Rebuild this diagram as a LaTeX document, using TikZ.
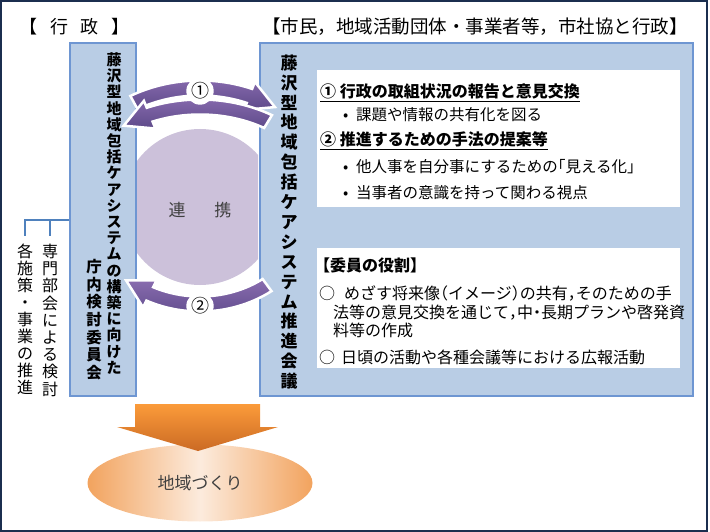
\documentclass[tikz,border=0pt]{standalone}
\usepackage{fontspec}
\setmainfont{Noto Sans CJK JP}
\usetikzlibrary{shapes.geometric}
\definecolor{boxfill}{HTML}{B9CDE5}
\definecolor{boxline}{HTML}{6E96D2}
\definecolor{bracketc}{HTML}{4F81BD}
\definecolor{lav}{HTML}{CCC1DA}
\definecolor{purpA}{HTML}{8A6DB0}
\definecolor{purpB}{HTML}{5E4A8A}
\definecolor{orgA}{HTML}{FB9B3A}
\definecolor{orgB}{HTML}{CB6A24}
\definecolor{ellA}{HTML}{F2A35E}
\definecolor{ellB}{HTML}{FCEBDD}
\definecolor{navy}{HTML}{1B2E4F}
\definecolor{txtgray}{HTML}{404040}
\tikzstyle{bluebox}=[rectangle,draw=boxline,line width=2pt,fill=boxfill,inner sep=0pt]
\tikzstyle{notebox}=[rectangle,fill=white,inner sep=0pt]
\tikzstyle{vcol}=[align=center,inner sep=0pt,anchor=north]
\tikzstyle{txt}=[anchor=base west,inner sep=0pt,font=\fontsize{16}{16}\selectfont]
\tikzstyle{bul}=[anchor=base west,inner sep=0pt,font=\fontsize{15.5}{15.5}\selectfont]
\tikzstyle{head}=[anchor=base west,inner sep=0pt,font=\fontsize{16}{16}\selectfont\bfseries]
\tikzstyle{cyclearrow}=[draw=white,line width=2.5pt,top color=purpA,bottom color=purpB]
\tikzstyle{numlabel}=[circle,fill=white,inner sep=1pt,font=\fontsize{18}{18}\selectfont]
\tikzstyle{bracket}=[draw=bracketc,line width=1.2pt]
% half width punctuation
\newcommand{\jlp}{\makebox[0.5em][r]{（}}
\newcommand{\jrp}{\makebox[0.5em][l]{）}}
\newcommand{\jcm}{\makebox[0.5em][l]{，}}
\newcommand{\jdt}{\makebox[0.5em][c]{・}}
\newcommand{\jlk}{\makebox[0.5em][r]{「}}
\newcommand{\jrk}{\makebox[0.5em][l]{」}}
% #1 tail angle, #2 head angle, #3 tip angle, #4/#5 radii of the middle line
\newcommand{\bendarrow}[5]{%
  \pgfmathsetmacro\ao{#4+7.5}\pgfmathsetmacro\bo{#5+7.5}%
  \pgfmathsetmacro\ai{#4-7.5}\pgfmathsetmacro\bi{#5-7.5}%
  \pgfmathsetmacro\aH{#4+15}\pgfmathsetmacro\bH{#5+15}%
  \pgfmathsetmacro\ah{#4-15}\pgfmathsetmacro\bh{#5-15}%
  \draw[cyclearrow] (xyz polar cs:angle=#1,x radius=\ao,y radius=\bo)
    arc[start angle=#1,end angle=#2,x radius=\ao,y radius=\bo]
    -- (xyz polar cs:angle=#2,x radius=\aH,y radius=\bH)
    -- (xyz polar cs:angle=#3,x radius=#4,y radius=#5)
    -- (xyz polar cs:angle=#2,x radius=\ah,y radius=\bh)
    -- (xyz polar cs:angle=#2,x radius=\ai,y radius=\bi)
    arc[start angle=#2,end angle=#1,x radius=\ai,y radius=\bi]
    -- cycle;}

\begin{document}
\begin{tikzpicture}[x=1pt,y=-1pt]
\useasboundingbox (0,0) rectangle (710,532);
\draw[navy,line width=2pt] (1,1) rectangle (707,531);

% headings
\node[anchor=base west,inner sep=0pt,font=\fontsize{18}{18}\selectfont] (gov) at (19,34) {【\hspace{13pt}行\hspace{12pt}政\hspace{13pt}】};
\node[inner sep=0pt,font=\fontsize{18.5}{18.5}\selectfont] (partners) at (475,27) {【市民，地域活動団体・事業者等，市社協と行政】};

% the two committees
\node[bluebox,minimum width=66pt,minimum height=353pt] (cmte) at (103,219.5) {};
\node[bluebox,minimum width=433pt,minimum height=353pt] (council) at (476.5,219.5) {};
\node[vcol,font=\fontsize{15}{16.2}\selectfont\bfseries] (cmtea) at (114,52.5) {藤\\沢\\型\\地\\域\\包\\括\\ケ\\ア\\シ\\ス\\テ\\ム\\の\\構\\築\\に\\向\\け\\た};
\node[vcol,font=\fontsize{15.5}{17.7}\selectfont\bfseries] (cmteb) at (94,259) {庁\\内\\検\\討\\委\\員\\会};
\node[vcol,font=\fontsize{17}{19.9}\selectfont\bfseries] (counciltxt) at (289,54.5) {藤\\沢\\型\\地\\域\\包\\括\\ケ\\ア\\シ\\ス\\テ\\ム\\推\\進\\会\\議};

% side notes
\node[vcol,font=\fontsize{16}{17.2}\selectfont,outer sep=8pt] (study) at (50,236) {専\\門\\部\\会\\に\\よ\\る\\検\\討};
\node[vcol,font=\fontsize{16}{17}\selectfont,outer sep=8pt] (policy) at (25,236) {各\\施\\策\\・\\事\\業\\の\\推\\進};
\coordinate (br) at (cmte.west |- 0,220);
\draw[bracket] (br) -| (study.north);
\draw[bracket] (br) -| (policy.north);

% council topics
\node[notebox,minimum width=363pt,minimum height=137pt] (topics) at (498.5,138.5) {};
\node[head] (h1) at (320,98) {\underline{① 行政の取組状況の報告と意見交換}};
\node[bul] (b1) at (335,121) {\makebox[21pt]{•}課題や情報の共有化を図る};
\node[head] (h2) at (320,146) {\underline{② 推進するための手法の提案等}};
\node[bul] (b2) at (335,173) {\makebox[21pt]{•}他人事を自分事にするための\jlk 見える化\jrk};
\node[bul] (b3) at (335,199) {\makebox[21pt]{•}当事者の意識を持って関わる視点};

% members' roles
\node[notebox,minimum width=363pt,minimum height=120pt] (roles) at (498.5,308) {};
\node[head] (r0) at (314,271) {【委員の役割】};
\node[txt] (r1) at (319,299) {○\hspace{9pt}めざす将来像\jlp イメージ\jrp の共有\jcm そのための手};
\node[txt] (r2) at (333,318) {法等の意見交換を通じて\jcm 中\jdt 長期プランや啓発資};
\node[txt] (r3) at (333,336) {料等の作成};
\node[txt] (r4) at (319,363) {○\hspace{6pt}日頃の活動や各種会議等における広報活動};

% cooperation
\begin{scope}
\clip (137,120) rectangle (258,300);
\fill[lav] (200,207) circle (78);
\end{scope}
\node[font=\fontsize{17}{17}\selectfont,text=txtgray] (renkei) at (200,210) {連\hspace{29pt}携};
\begin{scope}[shift={(200,207)}]
\bendarrow{241.4}{291}{302.9}{138}{119}
\bendarrow{301.3}{247.4}{234.4}{131}{100}
\bendarrow{53.6}{116.4}{130.9}{113}{97}
\end{scope}
\node[numlabel] (n1) at (200,91) {①};
\node[numlabel] (n2) at (200,306) {②};

% result
\node[ellipse,minimum width=225pt,minimum height=77pt,inner sep=0pt,left color=ellA,right color=ellA,middle color=ellB,font=\fontsize{17}{17}\selectfont,text=txtgray] (town) at (200,483) {地域づくり};
\shade[top color=orgA,bottom color=orgB] (135,404) -- (260,404) -- (260,427) -- (278,427) -- (198,451) -- (117,427) -- (135,427) -- cycle;
\end{tikzpicture}
\end{document}
